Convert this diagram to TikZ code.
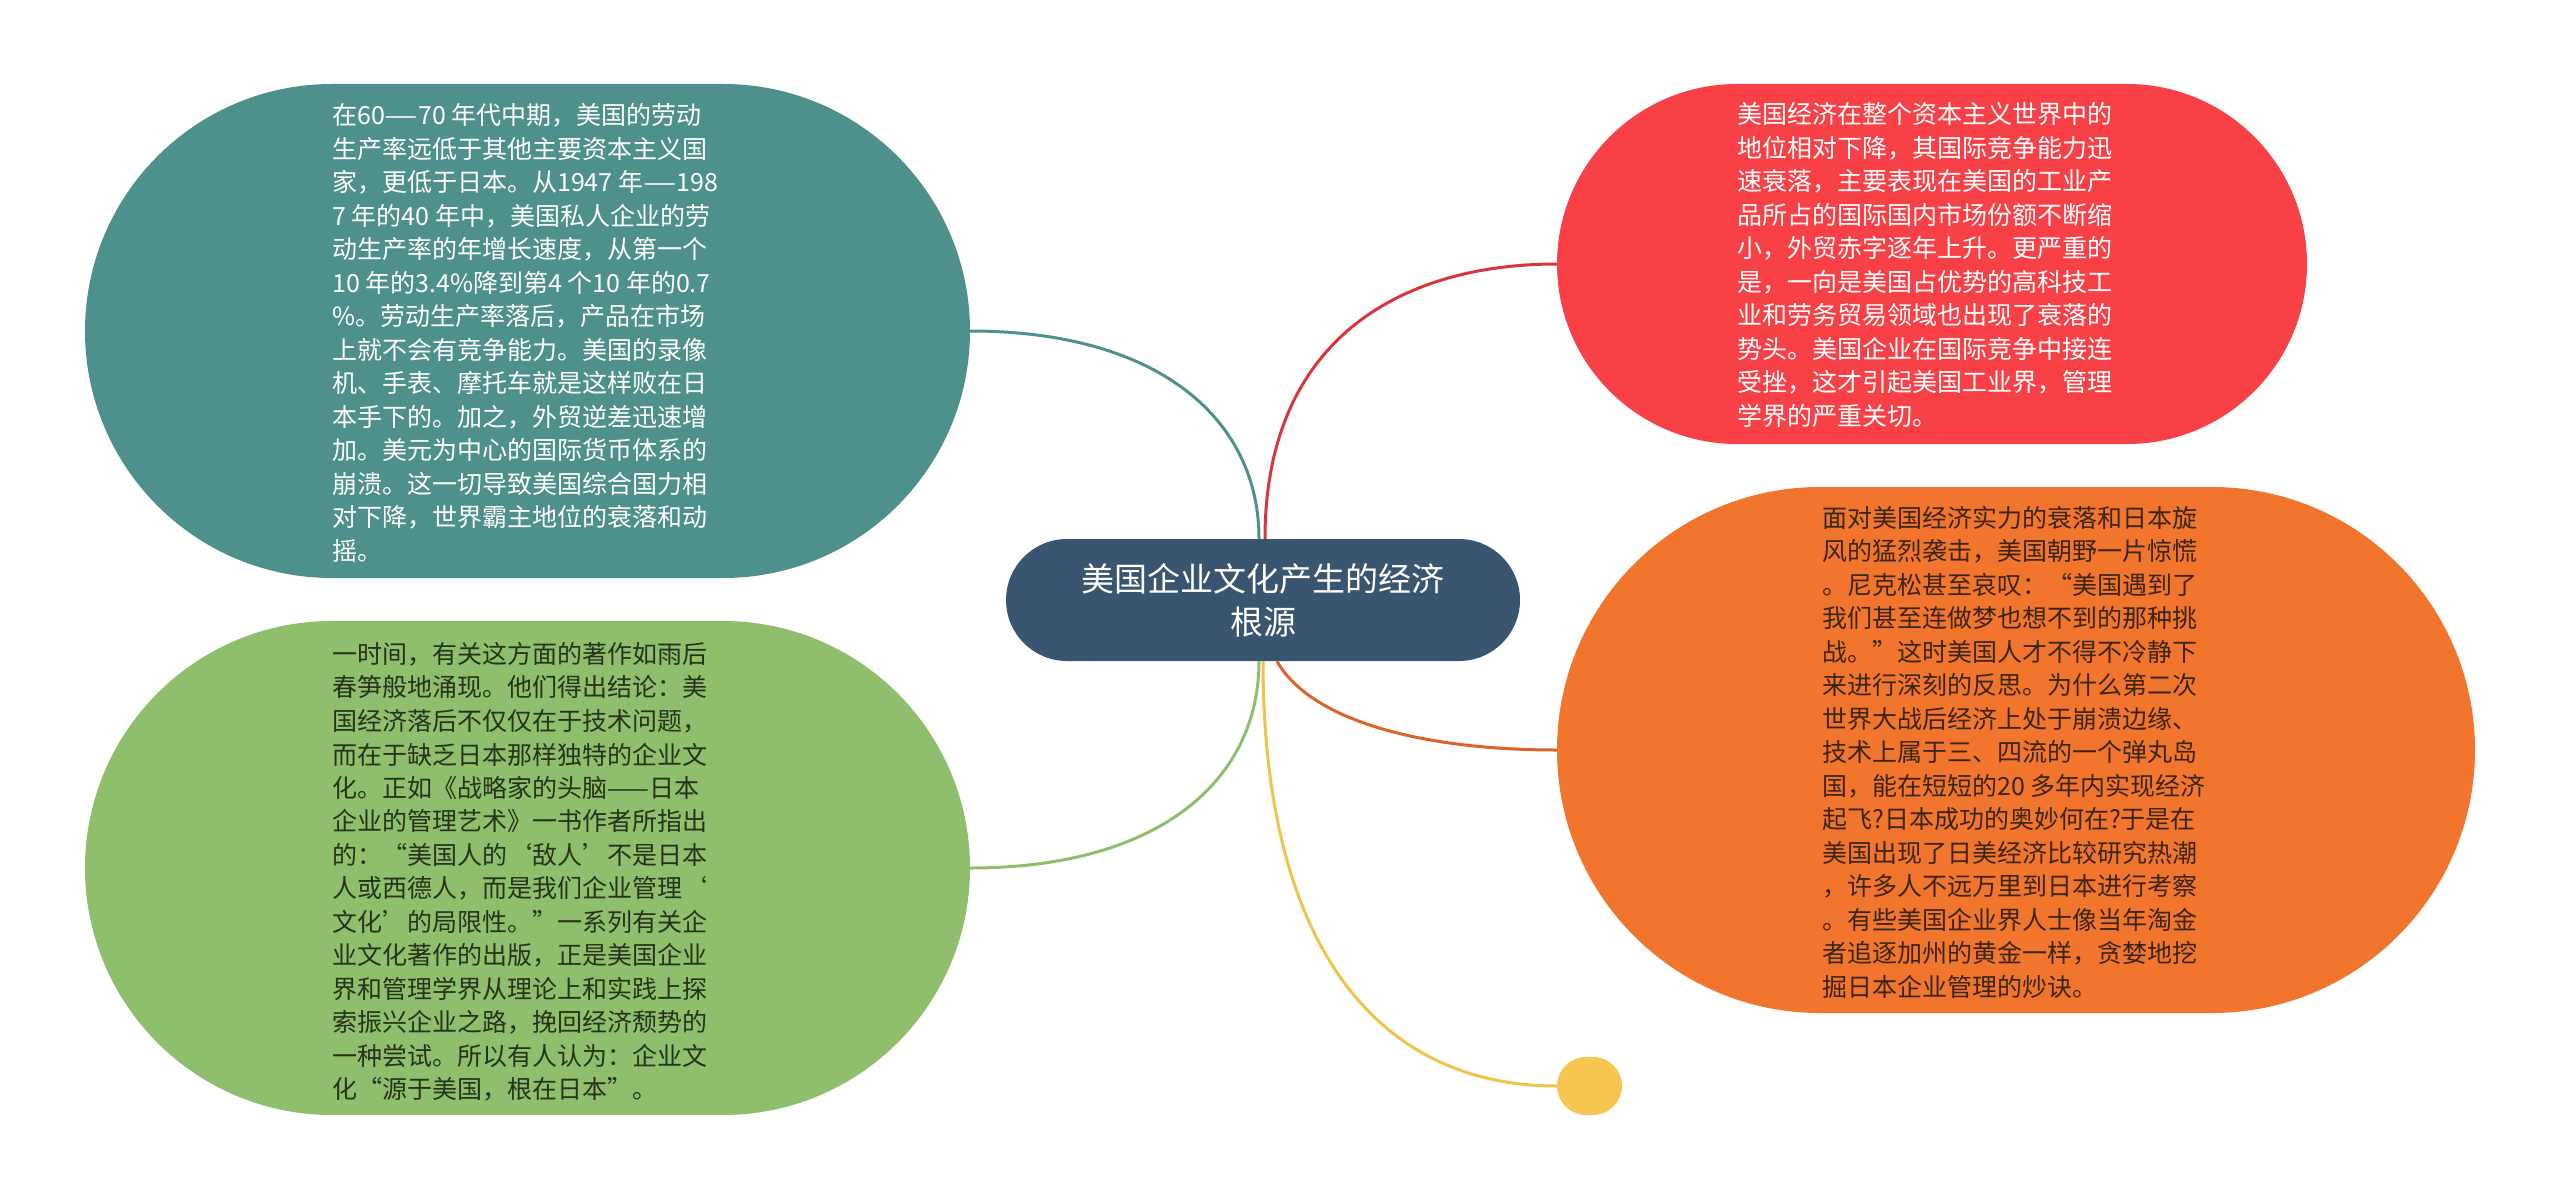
\documentclass[tikz,border=0pt]{standalone}
\usepackage{fontspec}
\setmainfont{Noto Sans CJK SC}
\definecolor{tealf}{HTML}{4E918C}
\definecolor{greenf}{HTML}{8FBE6C}
\definecolor{redf}{HTML}{F84146}
\definecolor{orangef}{HTML}{F2752D}
\definecolor{yellowf}{HTML}{F7C650}
\definecolor{centerf}{HTML}{3A5570}
\definecolor{redl}{HTML}{D7373C}
\definecolor{orangel}{HTML}{DC6428}
\definecolor{yellowl}{HTML}{F0C34B}
\definecolor{darkgreen}{HTML}{26331B}
\definecolor{darkbrown}{HTML}{3A2414}
\newcommand{\wdash}{\scalebox{1.5}[1]{—}}
\begin{document}
\begin{tikzpicture}[x=1pt,y=-1pt,
  blob/.style={rectangle, inner sep=0pt, draw=none},
  bodytext/.style={anchor=west, align=left, inner sep=0pt,
    font=\fontsize{25}{33.5}\selectfont},
  link/.style={line width=3pt}]
\useasboundingbox[fill=white] (0,0) rectangle (2560,1199);

% nodes
\node[blob, fill=tealf, minimum width=885pt, minimum height=494pt, rounded corners=247pt] (teal) at (527.5,331) {};
\node[blob, fill=greenf, minimum width=885pt, minimum height=494pt, rounded corners=247pt] (green) at (527.5,868) {};
\node[blob, fill=redf, minimum width=750pt, minimum height=360pt, rounded corners=180pt] (red) at (1932,264) {};
\node[blob, fill=orangef, minimum width=918pt, minimum height=526pt, rounded corners=263pt] (orange) at (2016,750) {};
\node[blob, fill=yellowf, minimum width=65pt, minimum height=58pt, rounded corners=29pt] (dot) at (1589.5,1086) {};
\node[blob, fill=centerf, minimum width=514pt, minimum height=122pt, rounded corners=61pt,
  text=white, align=center, font=\fontsize{33}{43}\selectfont] (center) at (1263,600)
  {美国企业文化产生的经济\\根源};

% connectors
\draw[link, draw=tealf] (teal.east) .. controls (1160,331) and (1259,420) .. ([xshift=-4pt]center.north);
\draw[link, draw=redl] ([xshift=2pt]center.north) .. controls (1265,340) and (1400,264) .. (red.west);
\draw[link, draw=greenf] ([xshift=-4pt]center.south) .. controls (1259,780) and (1160,868) .. (green.east);
\draw[link, draw=orangel] ([xshift=14pt]center.south) .. controls (1310,720) and (1420,750) .. (orange.west);
\draw[link, draw=yellowl] (center.south) .. controls (1263,950) and (1380,1086) .. (dot.west);

% texts
\node[bodytext, text=white] (tealtext) at (332,333) {在60\wdash 70 年代中期，美国的劳动\\
生产率远低于其他主要资本主义国\\
家，更低于日本。从1947 年\wdash 198\\
7 年的40 年中，美国私人企业的劳\\
动生产率的年增长速度，从第一个\\
10 年的3.4\%降到第4 个10 年的0.7\\
\%。劳动生产率落后，产品在市场\\
上就不会有竞争能力。美国的录像\\
机、手表、摩托车就是这样败在日\\
本手下的。加之，外贸逆差迅速增\\
加。美元为中心的国际货币体系的\\
崩溃。这一切导致美国综合国力相\\
对下降，世界霸主地位的衰落和动\\
摇。};

\node[bodytext, text=darkgreen] (greentext) at (332,872) {一时间，有关这方面的著作如雨后\\
春笋般地涌现。他们得出结论：美\\
国经济落后不仅仅在于技术问题，\\
而在于缺乏日本那样独特的企业文\\
化。正如《战略家的头脑——日本\\
企业的管理艺术》一书作者所指出\\
的：“美国人的‘敌人’不是日本\\
人或西德人，而是我们企业管理‘\\
文化’的局限性。”一系列有关企\\
业文化著作的出版，正是美国企业\\
界和管理学界从理论上和实践上探\\
索振兴企业之路，挽回经济颓势的\\
一种尝试。所以有人认为：企业文\\
化“源于美国，根在日本”。};

\node[bodytext, text=white] (redtext) at (1737,265) {美国经济在整个资本主义世界中的\\
地位相对下降，其国际竞争能力迅\\
速衰落，主要表现在美国的工业产\\
品所占的国际国内市场份额不断缩\\
小，外贸赤字逐年上升。更严重的\\
是，一向是美国占优势的高科技工\\
业和劳务贸易领域也出现了衰落的\\
势头。美国企业在国际竞争中接连\\
受挫，这才引起美国工业界，管理\\
学界的严重关切。};

\node[bodytext, text=darkbrown] (orangetext) at (1822,752) {面对美国经济实力的衰落和日本旋\\
风的猛烈袭击，美国朝野一片惊慌\\
。尼克松甚至哀叹：“美国遇到了\\
我们甚至连做梦也想不到的那种挑\\
战。”这时美国人才不得不冷静下\\
来进行深刻的反思。为什么第二次\\
世界大战后经济上处于崩溃边缘、\\
技术上属于三、四流的一个弹丸岛\\
国，能在短短的20 多年内实现经济\\
起飞?日本成功的奥妙何在?于是在\\
美国出现了日美经济比较研究热潮\\
，许多人不远万里到日本进行考察\\
。有些美国企业界人士像当年淘金\\
者追逐加州的黄金一样，贪婪地挖\\
掘日本企业管理的炒诀。};
\end{tikzpicture}
\end{document}
